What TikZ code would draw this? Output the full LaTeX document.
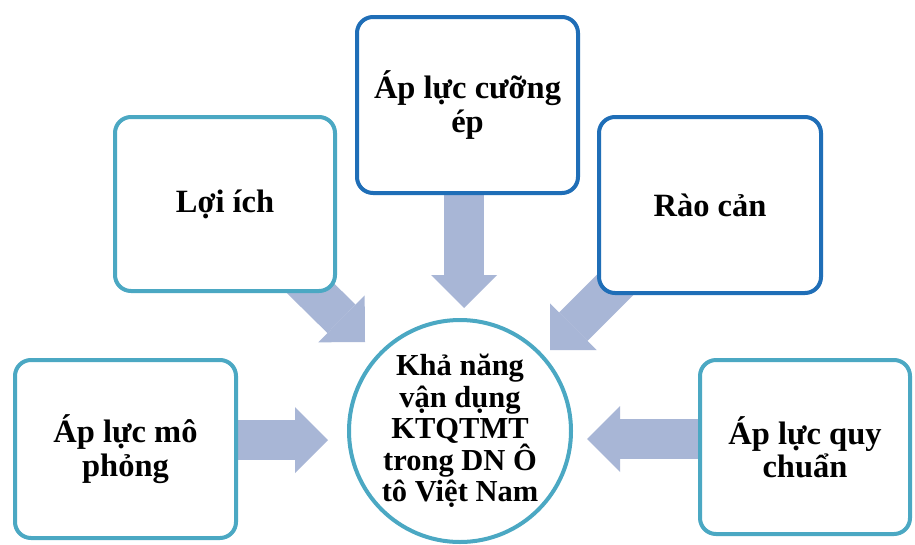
\documentclass[tikz,border=0pt]{standalone}
\usepackage{fontspec}
\setmainfont{Liberation Serif}
\usetikzlibrary{arrows.meta,calc,backgrounds}

\definecolor{tealedge}{RGB}{75,168,195}
\definecolor{blueedge}{RGB}{31,110,183}
\definecolor{arrowfill}{RGB}{168,182,214}

\tikzset{
  card/.style={draw=tealedge, line width=4pt, rounded corners=16pt, fill=white,
    inner sep=0pt, align=center, text=black,
    font=\bfseries\fontsize{32.5}{33.5}\selectfont},
  darkcard/.style={card, draw=blueedge},
  hub/.style={circle, draw=tealedge, line width=4pt, fill=white, inner sep=0pt,
    minimum size=222pt, align=center, text=black,
    font=\bfseries\fontsize{30.5}{31.5}\selectfont},
  blockarrow/.style={draw=arrowfill, line width=40pt,
    -{Triangle[length=33pt 0 0, width=66pt 0 0, line width=0pt 0 0]}}
}

\begin{document}
\begin{tikzpicture}[x=1pt, y=-1pt]
  \useasboundingbox (0,0) rectangle (915,544);

  % surrounding factors
  \node[card, minimum width=220pt, minimum height=174pt] (lich) at (225,204) {Lợi ích};
  \node[darkcard, minimum width=221pt, minimum height=176pt] (cuong) at (467.5,105) {Áp lực cưỡng\\ép};
  \node[darkcard, minimum width=222pt, minimum height=176pt] (rao) at (710,205) {Rào cản};
  \node[card, minimum width=221pt, minimum height=178pt] (mophong) at (125.5,449) {Áp lực mô\\phỏng};
  \node[card, minimum width=210pt, minimum height=174pt] (quychuan) at (805,447) {Áp lực quy\\chuẩn};

  % central capability
  \node[hub] (hub) at (460,431) {Khả năng\\vận dụng\\KTQTMT\\trong DN Ô\\tô Việt Nam};

  % arrow tips near the circle
  \coordinate (tipL) at (365,342);
  \coordinate (tipC) at (464,308);
  \coordinate (tipR) at (550,350);
  \coordinate (tipM) at (328,440);
  \coordinate (tipQ) at (587,439);

  \begin{scope}[on background layer]
    \fill[white] (0,0) rectangle (915,544);
    \draw[blockarrow] (lich.center) -- (tipL);
    \draw[blockarrow] (cuong.center -| tipC) -- (tipC);
    \draw[blockarrow] ($(rao.center)+(-62,47)$) -- (tipR);
    \draw[blockarrow] (mophong.center |- tipM) -- (tipM);
    \draw[blockarrow] (quychuan.center |- tipQ) -- (tipQ);
  \end{scope}
\end{tikzpicture}
\end{document}
